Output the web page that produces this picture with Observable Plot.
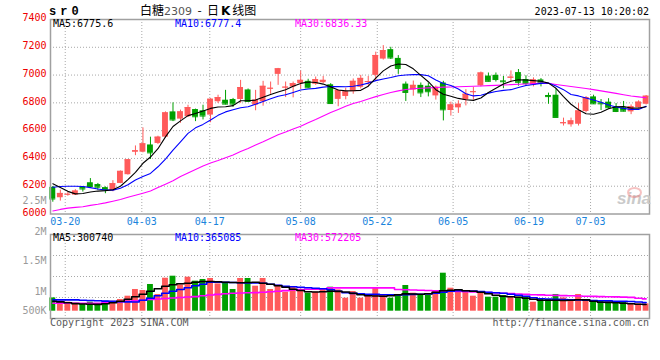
<!DOCTYPE html>
<html>
<head>
<meta charset="utf-8">
<script src="https://cdn.jsdelivr.net/npm/d3@7"></script>
<script src="https://cdn.jsdelivr.net/npm/@observablehq/plot@0.6"></script>
<style>
  html,body{margin:0;padding:0;background:#fff;}
  #chart{position:relative;width:660px;height:360px;overflow:hidden;background:#fff;}
  #chart svg{position:absolute;left:0;}
  .t{position:absolute;white-space:nowrap;font-family:"DejaVu Sans Mono",monospace;font-size:10px;line-height:10px;z-index:5;}
</style>
</head>
<body>
<div id="chart"></div>
<script>
// ---------- data ----------
const dates = ["03-16","03-17","03-20","03-21","03-22","03-23","03-24","03-27","03-28","03-29",
  "03-30","03-31","04-03","04-04","04-06","04-07","04-10","04-11","04-12","04-13",
  "04-14","04-17","04-18","04-19","04-20","04-21","04-24","04-25","04-26","04-27",
  "04-28","05-04","05-05","05-08","05-09","05-10","05-11","05-12","05-15","05-16",
  "05-17","05-18","05-19","05-22","05-23","05-24","05-25","05-26","05-29","05-30",
  "05-31","06-01","06-02","06-05","06-06","06-07","06-08","06-09","06-12","06-13",
  "06-14","06-15","06-16","06-19","06-20","06-21","06-26","06-27","06-28","06-29",
  "06-30","07-03","07-04","07-05","07-06","07-07","07-10","07-11","07-12","07-13"];

const open = [6192,6117,6138,6136,6195,6225,6212,6190,6168,6220,
  6283,6445,6445,6497,6508,6553,6735,6683,6700,6752,
  6743,6712,6808,6819,6824,6824,6893,6784,6808,6900,
  7005,6908,6914,6938,6955,6934,6945,6930,6825,6846,
  6880,6912,6948,6998,7115,7183,7120,6935,6892,6926,
  6920,6850,6943,6745,6764,6820,6876,6922,6993,6998,
  6958,6978,7018,6968,6928,6965,6853,6855,6650,6642,
  6646,6738,6843,6800,6805,6768,6765,6735,6766,6790];
const high = [6198,6172,6158,6175,6198,6255,6220,6195,6240,6310,
  6392,6490,6620,6553,6560,6735,6800,6748,6783,6755,
  6783,6830,6855,6890,6832,6962,6900,6890,6955,6950,
  7048,6950,6950,7029,6970,6986,6990,6938,6893,6905,
  6972,6998,6990,7165,7212,7200,7140,6950,6957,6943,
  6943,6921,6955,6805,6815,6895,6912,7022,7015,7015,
  6990,7030,7040,6995,6980,6975,6870,6903,6690,6690,
  6795,6845,6855,6824,6830,6795,6810,6785,6815,6853];
const low = [6085,6093,6128,6133,6158,6185,6170,6146,6160,6218,
  6280,6420,6440,6392,6500,6545,6665,6653,6695,6665,
  6677,6657,6795,6785,6768,6797,6805,6743,6776,6862,
  6926,6838,6836,6900,6903,6926,6938,6790,6772,6822,
  6862,6900,6915,6960,7108,7112,7005,6810,6848,6838,
  6843,6820,6670,6705,6724,6778,6820,6915,6950,6950,
  6902,6945,6920,6918,6915,6915,6790,6693,6633,6625,
  6633,6728,6788,6745,6755,6730,6735,6715,6760,6785];
const close = [6108,6148,6142,6165,6180,6198,6193,6175,6218,6307,
  6390,6455,6505,6440,6553,6728,6677,6735,6766,6700,
  6705,6826,6838,6791,6791,6910,6810,6819,6919,6905,
  7045,6913,6938,6962,6908,6967,6962,6795,6888,6879,
  6955,6976,6953,7141,7176,7123,7048,6875,6926,6872,
  6880,6912,6750,6785,6790,6862,6880,7015,6955,6968,
  6952,6985,6948,6940,6965,6945,6845,6695,6657,6670,
  6742,6838,6793,6793,6765,6738,6740,6772,6805,6848];

const ma5 = [6218,6190,6163,6145,6148,6158,6165,6168,6175,6200,
  6248,6300,6365,6410,6470,6555,6630,6670,6708,6724,
  6742,6760,6770,6772,6780,6815,6815,6820,6840,6860,
  6878,6895,6920,6940,6950,6946,6935,6915,6892,6886,
  6887,6890,6920,6978,7030,7065,7080,7076,7045,6998,
  6952,6895,6862,6848,6832,6822,6818,6835,6875,6905,
  6935,6955,6966,6964,6960,6956,6942,6905,6845,6790,
  6750,6722,6718,6733,6757,6772,6774,6762,6762,6772];
const ma10 = [6192,6198,6200,6200,6198,6190,6180,6172,6172,6185,
  6210,6245,6270,6292,6340,6395,6460,6520,6580,6620,
  6645,6676,6710,6735,6750,6765,6772,6790,6810,6830,
  6848,6858,6875,6892,6900,6904,6913,6918,6917,6916,
  6920,6928,6942,6960,6972,6982,6995,7000,7003,7003,
  6995,6965,6940,6925,6900,6865,6850,6855,6870,6882,
  6890,6895,6910,6925,6932,6940,6943,6922,6895,6860,
  6850,6835,6820,6805,6785,6770,6760,6752,6752,6775];
const ma30 = [6022,6033,6042,6048,6052,6062,6070,6080,6092,6105,
  6120,6135,6150,6165,6190,6215,6240,6270,6295,6320,
  6345,6367,6385,6405,6425,6450,6472,6497,6520,6545,
  6570,6590,6612,6632,6657,6680,6705,6730,6752,6775,
  6795,6810,6828,6845,6860,6875,6886,6896,6902,6905,
  6908,6911,6913,6914,6916,6918,6919,6921,6924,6926,
  6928,6931,6934,6936,6939,6942,6940,6932,6925,6918,
  6911,6903,6895,6886,6877,6868,6858,6849,6843,6837];

// volume, in thousands of lots
const volumeK = [505,380,342,304,277,342,277,380,380,445,
  570,825,787,1015,635,1254,1330,999,1292,1140,
  1205,1243,1037,1064,825,1243,1243,950,1243,825,
  988,722,939,749,684,722,825,912,809,494,
  749,494,635,885,635,494,635,977,684,597,
  597,787,1444,874,809,787,570,722,532,532,
  597,532,532,532,342,445,445,635,505,445,
  635,445,342,380,304,342,342,277,277,277];
const volMa5K = [380,353,323,289,274,266,258,285,323,380,
  456,551,646,760,855,950,1007,1045,1064,1102,
  1129,1129,1121,1102,1091,1083,1091,1102,1064,1026,
  969,912,836,787,741,730,741,760,752,730,
  684,627,589,578,570,589,627,657,654,646,
  665,722,779,798,817,779,760,722,665,608,
  570,551,532,494,456,418,418,418,407,418,
  437,429,380,342,334,323,304,285,266,255];
const volMa10K = [429,429,429,429,418,407,395,384,372,361,
  353,350,418,494,589,684,760,825,893,969,
  1026,1102,1102,1094,1091,1083,1075,1072,1064,1026,
  988,950,931,912,893,874,855,817,760,703,
  676,657,646,638,627,619,619,627,638,646,
  657,684,722,760,779,779,768,749,722,703,
  684,646,608,570,513,475,464,456,445,437,
  426,418,407,399,391,380,372,369,350,327];
const volMa30K = [304,304,304,304,304,304,304,323,342,361,
  380,399,418,445,464,483,502,521,540,555,
  585,616,638,661,684,692,699,707,718,737,
  760,783,806,825,832,840,847,885,885,885,
  885,885,885,885,885,885,825,817,806,794,
  787,779,771,764,752,745,733,722,711,695,
  684,669,654,638,627,619,608,600,593,585,
  578,570,562,555,547,543,536,524,494,467];

// axis labels
const priceTicks = [6000,6200,6400,6600,6800,7000,7200,7400];
const dateTicks = ["03-20","04-03","04-17","05-08","05-22","06-05","06-19","07-03"];
const dateTickPos = [1.65,11.85,20.9,33.0,43.2,53.3,63.4,71.6]; // candle-index position of each gridline
const volTickLabels = ["2M","1.5M","1M","500K"];
const volTickValuesK = [3028.6,1900,748.6,0];
const priceSideLabel = ["2.5M"];
const priceSideValue = [6092];
const maMainLabels = ["MA5:6775.6","MA10:6777.4","MA30:6836.33"];
const maVolLabels = ["MA5:300740","MA10:365085","MA30:572205"];

// ---------- drawing ----------
const RED = "#ff5a5a", GREEN = "#00a000";
const MA_COLORS = ["#000000", "#0000ff", "#ff00ff"];
const candles = dates.map((date, i) => ({
  i, date, o: open[i], h: high[i], l: low[i], c: close[i],
  v: volumeK[i], color: close[i] >= open[i] ? RED : GREEN
}));
const xDomain = [-0.31, 79.45];
const half = 0.39;
const grid = {stroke: "#a8a8a8", strokeDasharray: "1,2", strokeWidth: 1};
const baseStyle = {background: "transparent", fontFamily: "'DejaVu Sans Mono', monospace", fontSize: "10px", overflow: "visible"};

const mainPlot = Plot.plot({
  width: 660, height: 232,
  marginLeft: 50, marginRight: 11, marginTop: 19, marginBottom: 18.5,
  style: baseStyle,
  x: {domain: xDomain, axis: null},
  y: {domain: [6000, 7400], axis: null},
  color: {type: "identity"},
  marks: [
    Plot.ruleY(priceTicks.filter(v => v > 6000 && v < 7400), grid),
    Plot.ruleX(dateTickPos, grid),
    Plot.ruleX(candles, {x: "i", y1: "l", y2: "h", stroke: "color", strokeWidth: 1}),
    Plot.rect(candles, {x1: d => d.i - half, x2: d => d.i + half, y1: "o", y2: "c", fill: "color"}),
    Plot.ruleY(candles, {x1: d => d.i - half, x2: d => d.i + half, y: "c", stroke: "color", strokeWidth: 1}),
    Plot.line(candles, {x: "i", y: d => ma30[d.i], stroke: MA_COLORS[2], strokeWidth: 1.1}),
    Plot.line(candles, {x: "i", y: d => ma10[d.i], stroke: MA_COLORS[1], strokeWidth: 1.1}),
    Plot.line(candles, {x: "i", y: d => ma5[d.i], stroke: MA_COLORS[0], strokeWidth: 1.1}),
    Plot.frame({stroke: "#a0a0a0", strokeWidth: 1.5}),
    Plot.text(priceTicks, {y: d => d, text: d => String(d), frameAnchor: "left", textAnchor: "end", dx: -4, dy: -1.5, fill: "#ee0000", fontSize: 10}),
    Plot.text(priceSideLabel, {y: (d, i) => priceSideValue[i], text: d => d, frameAnchor: "left", textAnchor: "end", dx: -4, fill: "#9a9a9a", fontSize: 10}),
    Plot.text(dateTicks, {x: (d, i) => dateTickPos[i], text: d => d, frameAnchor: "bottom", lineAnchor: "top", dy: 4, fill: "#1a84dc", fontSize: 10})
  ]
});
mainPlot.style.top = "0px";

const volPlot = Plot.plot({
  width: 660, height: 115,
  marginLeft: 50, marginRight: 11, marginTop: 14, marginBottom: 17,
  style: baseStyle,
  x: {domain: xDomain, axis: null},
  y: {domain: [-277.4, 2914.6], axis: null},
  color: {type: "identity"},
  marks: [
    Plot.ruleY([1, 2, 3], {y: k => -277.4 + k * (2914.6 + 277.4) / 4, ...grid}),
    Plot.ruleX(dateTickPos, grid),
    Plot.rect(candles, {x1: d => d.i - half, x2: d => d.i + half, y1: () => 0, y2: "v", fill: "color"}),
    Plot.line(candles, {x: "i", y: d => volMa30K[d.i], stroke: MA_COLORS[2], strokeWidth: 1.6, curve: "step"}),
    Plot.line(candles, {x: "i", y: d => volMa10K[d.i], stroke: MA_COLORS[1], strokeWidth: 1.6, curve: "step"}),
    Plot.line(candles, {x: "i", y: d => volMa5K[d.i], stroke: MA_COLORS[0], strokeWidth: 1.6, curve: "step"}),
    Plot.frame({stroke: "#a0a0a0", strokeWidth: 1.5}),
    Plot.text(volTickLabels, {y: (d, i) => volTickValuesK[i], text: d => d, frameAnchor: "left", textAnchor: "end", dx: -4, fill: "#9a9a9a", fontSize: 10})
  ]
});
volPlot.style.top = "220px";

const root = document.getElementById("chart");
root.appendChild(mainPlot);
root.appendChild(volPlot);

function addText(html, css) {
  const d = document.createElement("div");
  d.className = "t";
  d.innerHTML = html;
  Object.assign(d.style, css);
  root.appendChild(d);
  return d;
}
// header
addText("sr0", {left: "49px", top: "6px", fontFamily: "'Liberation Mono', monospace", fontWeight: "bold", fontSize: "12px", lineHeight: "12px", letterSpacing: "4px", color: "#000"});
addText('白糖<span style="font-family:\'DejaVu Sans\',sans-serif;font-size:11px;color:#555">2309</span>&nbsp;&nbsp;-&nbsp;&nbsp;日<span style="font-family:\'DejaVu Sans\',sans-serif;font-weight:bold;padding:0 2px">K</span>线图',
  {left: "140px", top: "3px", fontFamily: "'Noto Sans CJK SC', sans-serif", fontSize: "12px", lineHeight: "14px", color: "#000"});
addText("2023-07-13 10:20:02", {right: "11px", top: "7px", color: "#000"});
// MA legends
const maX = [53, 175, 295];
maMainLabels.forEach((s, i) => addText(s, {left: maX[i] + "px", top: "19px", color: MA_COLORS[i]}));
maVolLabels.forEach((s, i) => addText(s, {left: maX[i] + "px", top: "233px", color: MA_COLORS[i]}));
// footer
addText("Copyright 2023 SINA.COM", {left: "50px", top: "318px", color: "#5a5a5a"});
addText("http://finance.sina.com.cn", {right: "11px", top: "318px", color: "#5a5a5a"});
// watermark
addText("sina", {right: "9px", top: "190px", fontFamily: "'Liberation Sans', sans-serif", fontStyle: "italic", fontWeight: "bold", fontSize: "17px", lineHeight: "17px", color: "#cacaca", zIndex: 1});
const eye = document.createElement("div");
Object.assign(eye.style, {position: "absolute", left: "627px", top: "187px", width: "11px", height: "7px", border: "2px solid rgba(235,120,120,0.45)", borderRadius: "50%", zIndex: 1});
root.appendChild(eye);
</script>
</body>
</html>
